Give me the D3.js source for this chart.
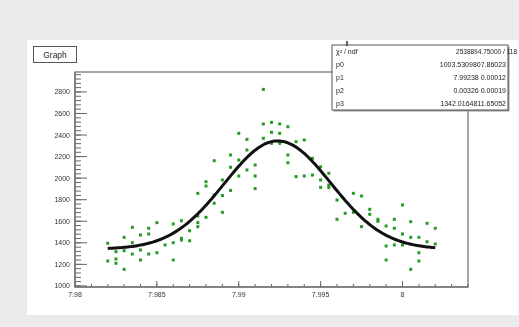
<!DOCTYPE html>
<html><head><meta charset="utf-8">
<script src="https://cdn.jsdelivr.net/npm/d3@7"></script>
<style>
body{margin:0;background:#ebebeb;}
svg{display:block;font-family:"Liberation Sans",Arial,sans-serif;filter:blur(0.5px);}
</style>
</head><body>
<svg id="c" width="519" height="327"></svg>
<script>
// ---- data ----
const pointX = [
 7.9820,7.9820,
 7.9825,7.9825,7.9825,
 7.9830,7.9830,7.9830,
 7.9835,7.9835,7.9835,
 7.9840,7.9840,7.9840,
 7.9845,7.9845,7.9845,
 7.9850,7.9850,
 7.9855,
 7.9860,7.9860,7.9860,
 7.9865,7.9865,7.9865,
 7.9870,7.9870,
 7.9875,7.9875,7.9875,7.9875,
 7.9880,7.9880,7.9880,
 7.9885,7.9885,7.9885,
 7.9890,7.9890,7.9890,
 7.9895,7.9895,7.9895,
 7.9900,7.9900,7.9900,
 7.9905,7.9905,7.9905,
 7.9910,7.9910,7.9910,
 7.9915,7.9915,7.9915,
 7.9920,7.9920,7.9920,
 7.9925,7.9925,7.9925,
 7.9930,7.9930,7.9930,
 7.9935,7.9935,
 7.9940,7.9940,
 7.9945,7.9945,
 7.9950,7.9950,7.9950,
 7.9955,7.9955,7.9955,
 7.9960,7.9960,
 7.9965,
 7.9970,7.9970,
 7.9975,7.9975,
 7.9980,7.9980,
 7.9985,7.9985,
 7.9990,7.9990,7.9990,
 7.9995,7.9995,7.9995,
 8.0000,8.0000,8.0000,
 8.0005,8.0005,8.0005,
 8.0010,8.0010,8.0010,
 8.0015,8.0015,
 8.0020,8.0020
];
const pointY = [
 1396,1231,
 1318,1250,1210,
 1154,1451,1327,
 1544,1401,1296,
 1473,1333,1241,
 1535,1482,1296,
 1587,1308,
 1380,
 1575,1401,1241,
 1605,1442,1426,
 1512,1419,
 1859,1649,1587,1550,
 1967,1927,1637,
 2162,1844,1767,
 1983,1839,1683,
 2215,2101,1886,
 2416,2168,2020,
 2360,2261,2076,
 2122,2020,1903,
 2824,2503,2370,
 2518,2425,2323,
 2503,2416,2323,
 2477,2215,2143,
 2338,2014,
 2354,2020,
 2184,2029,
 2106,1983,1915,
 2045,1936,1913,
 1797,1618,
 1674,
 1859,1683,
 1834,1550,
 1711,1665,
 1618,1600,
 1556,1370,1241,
 1618,1535,1380,
 1751,1482,1380,
 1596,1451,1154,
 1451,1308,1231,
 1581,1410,
 1535,1389
];
// fit parameters: p0*exp(-0.5*((x-p1)/p2)^2)+p3
const fitParams = [1003.53098, 7.99238, 0.00326, 1342.01648];
const fitRange = [7.982, 8.002];
const xTickLabels = ["7.98","7.985","7.99","7.995","8"];
const xTickValues = [7.98,7.985,7.99,7.995,8.0];
const yTickValues = [1000,1200,1400,1600,1800,2000,2200,2400,2600,2800];
const statNames = ["\u03C7\u00B2 / ndf","p0","p1","p2","p3"];
const statValues = ["2538894.75000 / 118","1003.5309807.86023","7.99238 0.00012","0.00326 0.00019","1342.0164811.65052"];
const titleText = "Graph";

// ---- layout ----
const svg = d3.select("#c");
const F = {l:75, r:468, t:72, b:287};
const x = d3.scaleLinear().domain([7.98, 8.004]).range([F.l, F.r]);
const y = d3.scaleLinear().domain([990, 2985]).range([F.b, F.t]);

// pad
svg.append("rect").attr("x",27).attr("y",40).attr("width",492).attr("height",275).attr("fill","#ffffff");

// frame
svg.append("rect").attr("x",F.l).attr("y",F.t).attr("width",F.r-F.l).attr("height",F.b-F.t)
  .attr("fill","#fff").attr("stroke","#8a8a8a").attr("stroke-width",1.5);

// axes (inward ticks, ROOT style)
const minorX = d3.range(0,25).map(i=>7.98+i*0.001);
const minorY = d3.range(0,50).map(i=>1000+i*40).filter(v=>v<=2985);
const gAx = svg.append("g").attr("stroke","#666").attr("stroke-width",1);
gAx.selectAll("line.mx").data(minorX).join("line")
  .attr("x1",d=>x(d)).attr("x2",d=>x(d)).attr("y1",F.b).attr("y2",F.b-3);
gAx.selectAll("line.Mx").data(xTickValues).join("line")
  .attr("x1",d=>x(d)).attr("x2",d=>x(d)).attr("y1",F.b).attr("y2",F.b-6);
gAx.selectAll("line.my").data(minorY).join("line")
  .attr("y1",d=>y(d)).attr("y2",d=>y(d)).attr("x1",F.l).attr("x2",F.l+6);
gAx.selectAll("line.My").data(yTickValues).join("line")
  .attr("y1",d=>y(d)).attr("y2",d=>y(d)).attr("x1",F.l).attr("x2",F.l+12);
svg.append("line").attr("x1",F.l).attr("x2",F.r).attr("y1",F.b).attr("y2",F.b).attr("stroke","#777").attr("stroke-width",1.5);
svg.append("line").attr("x1",F.l).attr("x2",F.l).attr("y1",F.t).attr("y2",F.b).attr("stroke","#777").attr("stroke-width",1.5);

svg.append("g").selectAll("text").data(xTickValues).join("text")
  .attr("x",d=>x(d)).attr("y",F.b+10).attr("text-anchor","middle")
  .attr("font-size",7).attr("fill","#333").text((d,i)=>xTickLabels[i]);
svg.append("g").selectAll("text").data(yTickValues).join("text")
  .attr("x",F.l-5).attr("y",d=>y(d)+2.5).attr("text-anchor","end")
  .attr("font-size",7).attr("fill","#333").text(d=>d);

// points
svg.append("g").selectAll("rect").data(pointX.map((d,i)=>[d,pointY[i]])).join("rect")
  .attr("x",d=>x(d[0])-1.5).attr("y",d=>y(d[1])-1.5).attr("width",3).attr("height",3)
  .attr("fill","#259a25");

// fit curve
const fx = d3.range(0,201).map(i=>fitRange[0]+(fitRange[1]-fitRange[0])*i/200);
const fpts = fx.map(v=>[v, fitParams[0]*Math.exp(-0.5*Math.pow((v-fitParams[1])/fitParams[2],2))+fitParams[3]]);
svg.append("path").attr("d", d3.line().x(d=>x(d[0])).y(d=>y(d[1]))(fpts))
  .attr("fill","none").attr("stroke","#111").attr("stroke-width",3);

// title box
svg.append("rect").attr("x",33.5).attr("y",46.5).attr("width",43).attr("height",16)
  .attr("fill","#fff").attr("stroke","#555").attr("stroke-width",1);
svg.append("text").attr("x",55).attr("y",58).attr("text-anchor","middle")
  .attr("font-size",8.5).attr("fill","#222").text(titleText);

// stat box
const S = {x:332, y:45, w:176, h:65};
svg.append("rect").attr("x",S.x+1.5).attr("y",S.y+1.5).attr("width",S.w).attr("height",S.h).attr("fill","#999");
svg.append("rect").attr("x",S.x).attr("y",S.y).attr("width",S.w).attr("height",S.h)
  .attr("fill","#fff").attr("stroke","#555").attr("stroke-width",1);
svg.append("line").attr("x1",347).attr("x2",347).attr("y1",41).attr("y2",46).attr("stroke","#333").attr("stroke-width",1.5);
const rowH = S.h/5;
svg.append("g").selectAll("text").data(statNames).join("text")
  .attr("x",S.x+4).attr("y",(d,i)=>S.y+rowH*(i+0.5)+2.5).attr("font-size",7).attr("fill","#222").text(d=>d);
svg.append("g").selectAll("text").data(statValues).join("text")
  .attr("x",(d,i)=> i===0 ? 517 : S.x+S.w-2).attr("y",(d,i)=>S.y+rowH*(i+0.5)+2.5)
  .attr("text-anchor","end").attr("font-size",(d,i)=> i===0 ? 6.5 : 7).attr("fill","#222").text(d=>d);
</script>
</body></html>
